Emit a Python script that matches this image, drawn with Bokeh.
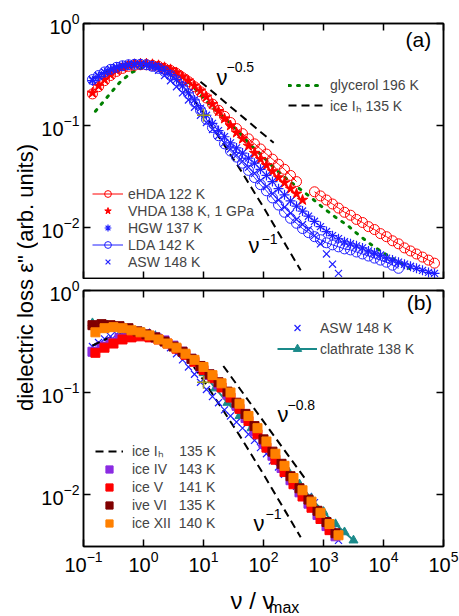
import math
from bokeh.plotting import figure
from bokeh.models import LogAxis, FixedTicker, Range1d, Label, Legend, LegendItem
from bokeh.layouts import row, column
from bokeh.embed import file_html
from bokeh.resources import INLINE

FONT = "Liberation Sans"

# ---------------- data ----------------
NU_FINE = [0.141, 0.178, 0.224, 0.282, 0.355, 0.447, 0.562, 0.708, 0.891, 1.12,
           1.41, 1.78, 2.24, 2.82, 3.55, 4.47, 5.62, 7.08, 8.91, 11.2,
           14.1, 17.8, 22.4, 28.2, 35.5, 44.7, 56.2, 70.8, 89.1, 112,
           141, 178, 224, 282, 355, 447, 562, 708, 891, 1122,
           1413, 1778, 2239, 2818, 3548, 4467, 5623, 7079, 8913, 11220,
           14125, 17783, 22387, 28184, 35481, 44668, 56234, 70795]

EHDA_LOW = [0.204, 0.240, 0.275, 0.309, 0.339, 0.363, 0.380, 0.389, 0.394, 0.394,
            0.389, 0.380, 0.363, 0.347, 0.324, 0.295, 0.269, 0.240, 0.214, 0.186,
            0.162, 0.141, 0.123, 0.107, 0.0933, 0.0832, 0.0741, 0.0661, 0.0589, 0.0525,
            0.0468, 0.0417, 0.0372, 0.0324, 0.0282]
EHDA_HIGH = [0.0224, 0.0204, 0.0186, 0.0170, 0.0155, 0.0141, 0.0132, 0.0120, 0.0112, 0.0102,
             0.00955, 0.00871, 0.00813, 0.00741, 0.00692, 0.00631, 0.00589, 0.00550, 0.00513, 0.00479,
             0.00447]
VHDA = [0.209, 0.245, 0.282, 0.316, 0.347, 0.372, 0.389, 0.398, 0.403, 0.403,
        0.398, 0.389, 0.372, 0.355, 0.331, 0.302, 0.275, 0.245, 0.219, 0.191,
        0.162, 0.138, 0.117, 0.100, 0.0851, 0.0741, 0.0631, 0.0537, 0.0468, 0.0407,
        0.0355, 0.0309, 0.0275, 0.0240, 0.0214, 0.0186]
HGW = [0.275, 0.302, 0.331, 0.355, 0.372, 0.385, 0.394, 0.398, 0.398, 0.394,
       0.385, 0.372, 0.347, 0.316, 0.282, 0.245, 0.209, 0.178, 0.148, 0.126,
       0.105, 0.0891, 0.0776, 0.0676, 0.0603, 0.0537, 0.0479, 0.0427, 0.0372, 0.0324,
       0.0282, 0.0240, 0.0209, 0.0182, 0.0162, 0.0145, 0.0129, 0.0115, 0.0102, 0.00912,
       0.00832, 0.00776, 0.00724, 0.00692, 0.00661, 0.00631, 0.00589, 0.00562, 0.00537, 0.00501,
       0.00479, 0.00457, 0.00437, 0.00417, 0.00398, 0.00380, 0.00363, 0.00355]
LDA = [0.282, 0.309, 0.335, 0.355, 0.372, 0.385, 0.394, 0.398, 0.398, 0.394,
       0.380, 0.363, 0.339, 0.309, 0.275, 0.240, 0.204, 0.170, 0.141, 0.115,
       0.0955, 0.0794, 0.0661, 0.0562, 0.0490, 0.0427, 0.0363, 0.0309, 0.0263, 0.0229,
       0.0195, 0.0166, 0.0141, 0.0123, 0.0110, 0.00977, 0.00891, 0.00813, 0.00759, 0.00708,
       0.00676, 0.00646, 0.00617, 0.00603, 0.00575, 0.00550, 0.00525, 0.00501, 0.00479, 0.00457,
       0.00427, 0.00398]
ASW = [0.282, 0.309, 0.335, 0.355, 0.372, 0.385, 0.394, 0.398, 0.398, 0.389,
       0.372, 0.347, 0.309, 0.275, 0.240, 0.209, 0.178, 0.151, 0.126, 0.107,
       0.0912, 0.0794, 0.0676, 0.0589, 0.0513, 0.0447, 0.0389, 0.0339, 0.0288, 0.0251,
       0.0214, 0.0186, 0.0158, 0.0138, 0.0120, 0.0107, 0.00955, 0.00832, 0.00692, 0.00550,
       0.00437, 0.00355]

GLY_NU = [0.158, 0.251, 0.398, 0.631, 1.0, 1.58, 2.51, 3.98, 6.31, 10.0,
          15.8, 25.1, 39.8, 63.1, 100, 158, 251, 398, 631, 1000,
          1585, 2512, 3981, 6310, 10000, 15849, 25119, 31623]
GLY_EPS = [0.138, 0.191, 0.263, 0.331, 0.372, 0.389, 0.372, 0.316, 0.251, 0.186,
           0.141, 0.112, 0.0851, 0.0631, 0.0490, 0.0372, 0.0295, 0.0240, 0.0195, 0.0155,
           0.0126, 0.0105, 0.00832, 0.00676, 0.00562, 0.00479, 0.00407, 0.00380]

ICEIH_NU = [0.141, 0.251, 0.398, 0.631, 1.0, 1.58, 2.51, 3.98, 6.31, 10.0,
            15.8, 25.1, 39.8, 63.1, 100, 158, 251, 417]
ICEIH_EPS = [0.288, 0.339, 0.372, 0.389, 0.389, 0.372, 0.331, 0.263, 0.191, 0.132,
             0.0871, 0.0575, 0.0380, 0.0245, 0.0158, 0.0100, 0.00631, 0.00380]

MARK_NU = [10.0]
MARK_EPS = [0.126]

SLOPE05_NU = [8.9, 148]
SLOPE05_EPS = [0.269, 0.0676]
SLOPE08_NU = [21.4, 501]
SLOPE08_EPS = [0.182, 0.0141]

SQ_NU_A = [0.158, 0.224, 0.316, 0.447, 0.631, 0.891, 1.26, 1.78, 2.51, 3.55,
           5.01, 7.08, 10.0, 14.1, 20.0, 28.2, 39.8, 56.2, 79.4, 112,
           158, 224, 316, 447, 631, 891, 1259, 1778]
SQ_NU_B = [0.141, 0.200, 0.282, 0.398, 0.562, 0.794, 1.12, 1.58, 2.24, 3.16,
           4.47, 6.31, 8.91, 12.6, 17.8, 25.1, 35.5, 50.1, 70.8, 100,
           141, 200, 282, 398, 562, 794, 1122, 1585]
ICE_XII = [0.389, 0.427, 0.437, 0.427, 0.407, 0.389, 0.363, 0.331, 0.302, 0.275,
           0.240, 0.209, 0.178, 0.148, 0.123, 0.100, 0.0776, 0.0589, 0.0447, 0.0331,
           0.0251, 0.0191, 0.0145, 0.0110, 0.00851, 0.00661, 0.00513, 0.00398]
ICE_V = [0.245, 0.275, 0.302, 0.331, 0.347, 0.355, 0.347, 0.331, 0.302, 0.269,
         0.234, 0.200, 0.166, 0.138, 0.112, 0.0891, 0.0692, 0.0525, 0.0389, 0.0288,
         0.0219, 0.0166, 0.0126, 0.00955, 0.00741, 0.00575, 0.00447]
ICE_VI = [0.457, 0.468, 0.457, 0.447, 0.427, 0.398, 0.372, 0.347, 0.316, 0.282,
          0.251, 0.214, 0.182, 0.151, 0.126, 0.102, 0.0794, 0.0617, 0.0468, 0.0347,
          0.0263, 0.0200, 0.0151, 0.0115, 0.00891, 0.00692, 0.00537, 0.00417]
ICE_IV = [0.251, 0.282, 0.309, 0.339, 0.355, 0.363, 0.363, 0.347, 0.324, 0.288,
          0.251, 0.214, 0.178, 0.148, 0.120, 0.0955, 0.0741, 0.0562, 0.0417, 0.0316,
          0.0240, 0.0182, 0.0138, 0.0105, 0.00813, 0.00631, 0.00490, 0.00389]

CLA_NU = [0.141, 0.251, 0.398, 0.631, 1.0, 1.58, 2.51, 3.98, 6.31, 10.0,
          15.8, 25.1, 39.8, 63.1, 100, 158, 251, 398, 631, 1000,
          1585, 2239, 3162]
CLA_EPS = [0.479, 0.457, 0.437, 0.417, 0.389, 0.355, 0.309, 0.257, 0.204, 0.155,
           0.110, 0.0794, 0.0589, 0.0447, 0.0331, 0.0240, 0.0174, 0.0126, 0.00912, 0.00676,
           0.00513, 0.00427, 0.00355]

X_TICKS = [0.1, 1, 10, 100, 1000, 10000, 100000]
Y_TICKS = [0.01, 0.1, 1]

RED = "#ff0000"
BLUE = "#1f1fff"
GREEN = "#008000"
TEAL = "#1a8a8a"
OLIVE = "#9a9a20"

PW = 421          # panel canvas width
LB, RB = 45, 16   # left / right borders
YS_W = 38         # width of the y-title strip
TOTAL_H = 616


def style_axis(ax, ticks, show):
    ax.ticker = FixedTicker(ticks=ticks)
    ax.major_tick_in = 7
    ax.major_tick_out = 0
    ax.minor_tick_line_color = None
    ax.axis_line_width = 1.5
    ax.major_tick_line_width = 1.5
    ax.axis_line_color = "black"
    ax.major_tick_line_color = "black"
    ax.major_label_text_font = FONT
    if show:
        ax.major_label_text_color = "black"
        ax.major_label_text_font_size = "20px"
        ax.major_label_standoff = 4
    else:
        ax.major_label_text_color = None
        ax.major_label_text_font_size = "1px"
        ax.major_label_standoff = 0


def panel(h, top, bottom, ylo, xlabels):
    p = figure(width=PW, height=h, x_axis_type="log", y_axis_type="log",
               x_range=Range1d(0.1, 1e5), y_range=Range1d(ylo, 1),
               output_backend="svg", toolbar_location=None, title=None,
               min_border_left=LB, min_border_right=RB,
               min_border_top=top, min_border_bottom=bottom)
    p.xgrid.grid_line_color = None
    p.ygrid.grid_line_color = None
    p.outline_line_color = "black"
    p.outline_line_width = 1.5
    p.background_fill_color = "white"
    p.border_fill_color = "white"
    style_axis(p.xaxis[0], X_TICKS, xlabels)
    style_axis(p.yaxis[0], Y_TICKS, True)
    ax_top = LogAxis()
    style_axis(ax_top, X_TICKS, False)
    p.add_layout(ax_top, "above")
    ax_r = LogAxis()
    style_axis(ax_r, Y_TICKS, False)
    p.add_layout(ax_r, "right")
    return p


def strip(w, h):
    s = figure(width=w, height=h, x_range=Range1d(0, w), y_range=Range1d(0, h),
               x_axis_location=None, y_axis_location=None, title=None,
               output_backend="svg", toolbar_location=None,
               min_border_left=0, min_border_right=0, min_border_top=0, min_border_bottom=0)
    s.outline_line_color = None
    s.grid.visible = False
    return s


def lg(q):
    return 10 ** q


def txt(p, x, y, t, size, align="left", angle=0.0):
    p.add_layout(Label(x=x, y=y, text=t, text_font=FONT, text_font_size=size, angle=angle,
                       text_align=align, text_baseline="middle", text_color="black"))


def style_legend(lgd, gw, gh, so):
    lgd.glyph_width = gw
    lgd.glyph_height = gh
    lgd.label_height = gh
    lgd.spacing = 0
    lgd.padding = 0
    lgd.margin = 0
    lgd.label_standoff = so
    lgd.border_line_color = None
    lgd.background_fill_alpha = 0
    lgd.label_text_font = FONT
    lgd.label_text_font_size = "14px"
    lgd.label_text_baseline = "middle"


# ---------------- panel (a) ----------------
p1 = panel(279, 23, 1, 10 ** -2.5, False)

r_gly = p1.line(GLY_NU, GLY_EPS, line_color=GREEN, line_width=3, line_dash="2 7", line_cap="round")
r_ih = p1.line(ICEIH_NU, ICEIH_EPS, line_color="black", line_width=2, line_dash="8 5")
p1.line(SLOPE05_NU, SLOPE05_EPS, line_color="black", line_width=2, line_dash="8 5")

r_e_line = p1.line(NU_FINE[0:35], EHDA_LOW, line_color=RED, line_width=1)
p1.line(NU_FINE[37:58], EHDA_HIGH, line_color=RED, line_width=1)
r_e_pts = p1.scatter(NU_FINE[0:35], EHDA_LOW, marker="circle", size=10, fill_color=None,
                     line_color=RED, line_width=1)
p1.scatter(NU_FINE[37:58], EHDA_HIGH, marker="circle", size=10, fill_color=None,
           line_color=RED, line_width=1)
r_v = p1.scatter(NU_FINE[0:36], VHDA, marker="star", size=11, fill_color=RED, line_color=RED)
r_h = p1.scatter(NU_FINE, HGW, marker="asterisk", size=10, line_color=BLUE, line_width=1.2)
r_l_line = p1.line(NU_FINE[0:52], LDA, line_color=BLUE, line_width=1)
r_l_pts = p1.scatter(NU_FINE[0:52], LDA, marker="circle", size=10, fill_color=None,
                     line_color=BLUE, line_width=1)
r_a = p1.scatter(NU_FINE[0:42], ASW, marker="x", size=10, line_color=BLUE, line_width=1.2)
p1.scatter(MARK_NU, MARK_EPS, marker="cross", size=13, line_color=OLIVE, line_width=1.5)

leg1 = Legend(items=[LegendItem(label="eHDA 122 K", renderers=[r_e_line, r_e_pts]),
                     LegendItem(label="VHDA 138 K, 1 GPa", renderers=[r_v]),
                     LegendItem(label="HGW 137 K", renderers=[r_h]),
                     LegendItem(label="LDA 142 K", renderers=[r_l_line, r_l_pts]),
                     LegendItem(label="ASW 148 K", renderers=[r_a])],
              location=(9, 8))
leg2 = Legend(items=[LegendItem(label="glycerol 196 K", renderers=[r_gly]),
                     LegendItem(label="ice I\u2095 135 K", renderers=[r_ih])],
              location=(205, 163))
style_legend(leg1, 31, 17, 5)
style_legend(leg2, 35, 20, 7)
p1.add_layout(leg1)
p1.add_layout(leg2)

txt(p1, lg(4.58), lg(-0.157), "(a)", "21px", "center")
txt(p1, lg(1.217), lg(-0.53), "\u03bd", "22px")
txt(p1, lg(1.383), lg(-0.431), "\u22120.5", "14px")
txt(p1, lg(1.75), lg(-2.176), "\u03bd", "22px")
txt(p1, lg(1.967), lg(-2.108), "\u22121", "14px")

# ---------------- panel (b) ----------------
p2 = panel(302, 11, 35, 10 ** -2.51, True)

p2.line(ICEIH_NU, ICEIH_EPS, line_color="black", line_width=2, line_dash="8 5")
p2.line(SLOPE08_NU, SLOPE08_EPS, line_color="black", line_width=2, line_dash="8 5")
r_a2 = p2.scatter(NU_FINE[0:42], ASW, marker="x", size=10, line_color=BLUE, line_width=1.2)
r_c_line = p2.line(CLA_NU, CLA_EPS, line_color=TEAL, line_width=2)
r_c_pts = p2.scatter(CLA_NU, CLA_EPS, marker="triangle", size=9, fill_color=TEAL, line_color=TEAL)
r_iv = p2.scatter(SQ_NU_B, ICE_IV, marker="square", size=9, fill_color="#8a2be2", line_color="#8a2be2")
r_v5 = p2.scatter(SQ_NU_A[0:27], ICE_V, marker="square", size=9, fill_color=RED, line_color=RED)
r_vi = p2.scatter(SQ_NU_B, ICE_VI, marker="square", size=9, fill_color="#800000", line_color="#800000")
r_xii = p2.scatter(SQ_NU_A, ICE_XII, marker="square", size=9, fill_color="#ff8000", line_color="#ff8000")
p2.scatter(MARK_NU, MARK_EPS, marker="cross", size=13, line_color=OLIVE, line_width=1.5)
r_ih2 = p2.line(ICEIH_NU[0:2], ICEIH_EPS[0:2], line_color="black", line_width=2, line_dash="8 5")

NB = "\u00a0"
leg3 = Legend(items=[LegendItem(label="ice I\u2095" + NB * 4 + "135 K", renderers=[r_ih2]),
                     LegendItem(label="ice IV" + NB * 3 + "143 K", renderers=[r_iv]),
                     LegendItem(label="ice V" + NB * 4 + "141 K", renderers=[r_v5]),
                     LegendItem(label="ive VI" + NB * 3 + "135 K", renderers=[r_vi]),
                     LegendItem(label="ice XII" + NB * 2 + "140 K", renderers=[r_xii])],
              location=(12, 14))
leg4 = Legend(items=[LegendItem(label="ASW 148 K", renderers=[r_a2]),
                     LegendItem(label="clathrate 138 K", renderers=[r_c_line, r_c_pts])],
              location=(194, 187))
style_legend(leg3, 28, 18, 9)
style_legend(leg4, 40, 21, 3)
p2.add_layout(leg3)
p2.add_layout(leg4)

txt(p2, lg(4.6), lg(-0.118), "(b)", "21px", "center")
txt(p2, lg(2.233), lg(-1.216), "\u03bd", "22px")
txt(p2, lg(2.4), lg(-1.127), "\u22120.8", "14px")
txt(p2, lg(1.833), lg(-2.284), "\u03bd", "22px")
txt(p2, lg(2.033), lg(-2.196), "\u22121", "14px")

# ---------------- x-axis title strip ----------------
XS_H = TOTAL_H - 279 - 302
xs = strip(PW, XS_H)
txt(xs, 172, 16, "\u03bd / \u03bd", "24px")
txt(xs, 217, 9, "max", "16px")

# ---------------- y-axis title strip ----------------
ys = strip(YS_W, TOTAL_H)
txt(ys, 25, 339, "dielectric loss \u03b5\" (arb. units)", "22px", "center", math.pi / 2)

layout = row(ys, column(p1, p2, xs, spacing=0), spacing=0)

open("out.html", "w").write(file_html(layout, INLINE))
